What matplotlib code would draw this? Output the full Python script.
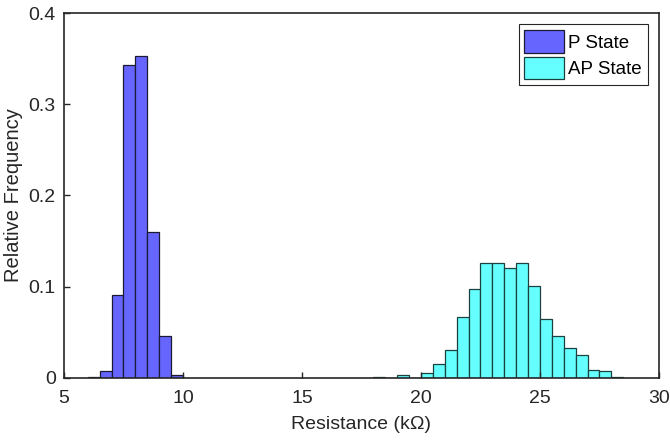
import matplotlib
matplotlib.use("Agg")
import matplotlib.pyplot as plt
import numpy as np

# Data
p_edges = [6.0, 6.5, 7.0, 7.5, 8.0, 8.5, 9.0, 9.5, 10.0]
p_freq = [0.001, 0.008, 0.0905, 0.3434, 0.3526, 0.160, 0.0455, 0.0037]

ap_edges = [18.0, 18.5, 19.0, 19.5, 20.0, 20.5, 21.0, 21.5, 22.0, 22.5, 23.0,
            23.5, 24.0, 24.5, 25.0, 25.5, 26.0, 26.5, 27.0, 27.5, 28.0, 28.5]
ap_freq = [0.001, 0.0, 0.003, 0.0, 0.005, 0.0153, 0.0307, 0.0673, 0.097,
           0.1255, 0.1255, 0.121, 0.1255, 0.1005, 0.065, 0.0455, 0.033,
           0.0255, 0.0088, 0.0073, 0.0015]

labels = ["P State", "AP State"]
x_ticks = [5, 10, 15, 20, 25, 30]
y_ticks = [0, 0.1, 0.2, 0.3, 0.4]

plt.rcParams['font.family'] = ['Liberation Sans', 'DejaVu Sans']
plt.rcParams['font.size'] = 13

dark = (0.15, 0.15, 0.15)
fig = plt.figure(figsize=(6.7, 4.41), dpi=100)
ax = fig.add_axes([0.0955, 0.1429, 0.888, 0.8276])

p_color = (0.4, 0.4, 1.0)
ap_color = (0.4, 1.0, 1.0)
edge = (0.1, 0.1, 0.2)

pe = np.array(p_edges)
ax.bar(pe[:-1], p_freq, width=np.diff(pe), align='edge', color=p_color,
       edgecolor=edge, linewidth=0.9, label=labels[0])
ae = np.array(ap_edges)
ax.bar(ae[:-1], ap_freq, width=np.diff(ae), align='edge', color=ap_color,
       edgecolor=(0.1, 0.25, 0.25), linewidth=0.9, label=labels[1])

ax.set_xlim(5, 30)
ax.set_ylim(0, 0.4)
ax.set_xticks(x_ticks)
ax.set_xticklabels([str(t) for t in x_ticks])
ax.set_yticks(y_ticks)
ax.set_yticklabels(["0", "0.1", "0.2", "0.3", "0.4"])
ax.tick_params(direction='in', length=4, width=1.0, colors=dark,
               labelsize=14, top=False, right=False)
ax.tick_params(axis='x', pad=9)
ax.tick_params(axis='y', pad=6)
for s in ax.spines.values():
    s.set_color(dark)
    s.set_linewidth(1.2)

ax.set_xlabel("Resistance (k\u03a9)", fontsize=14, color=dark, labelpad=6)
ax.set_ylabel("Relative Frequency", fontsize=14.5, color=dark, labelpad=4)

leg = ax.legend(loc='upper right', fontsize=13.5, frameon=True, fancybox=False,
                framealpha=1, edgecolor=dark, borderaxespad=0.6,
                handlelength=2.1, handleheight=1.5, handletextpad=0.25,
                labelspacing=0.2, borderpad=0.3)
leg.get_frame().set_linewidth(0.8)

fig.savefig("out.png", dpi=100)
